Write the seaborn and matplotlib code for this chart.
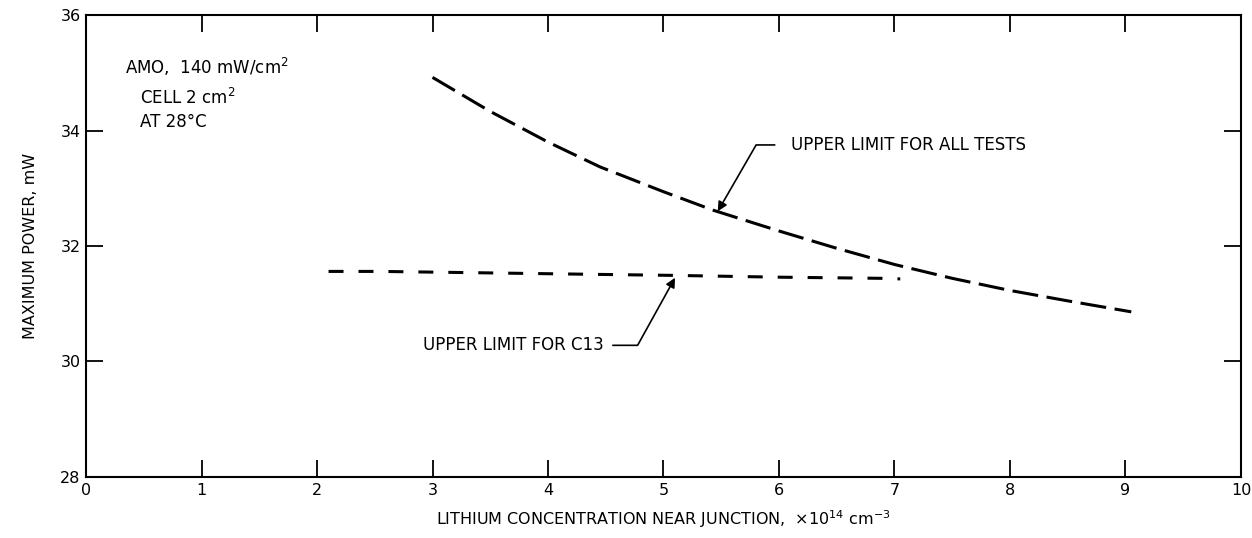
import pandas as pd
import seaborn as sns
from matplotlib import pyplot as plt

# upper limit for all tests
all_x = [3.0, 3.5, 4.0, 4.45, 5.0, 5.43, 6.0, 6.5, 7.0, 7.5, 8.0, 8.5, 9.05]
all_y = [34.92, 34.33, 33.8, 33.37, 32.94, 32.62, 32.26, 31.96, 31.68, 31.44, 31.23, 31.05, 30.86]

# upper limit for C13
c13_x = [2.1, 2.55, 4.0, 5.12, 6.0, 6.9, 7.05]
c13_y = [31.56, 31.56, 31.52, 31.49, 31.46, 31.44, 31.43]

x_ticks = [0, 1, 2, 3, 4, 5, 6, 7, 8, 9, 10]
y_ticks = [28, 30, 32, 34, 36]

sns.set_style("ticks")
plt.rcParams['font.family'] = ['DejaVu Sans']
plt.rcParams['text.color'] = 'black'
plt.rcParams['axes.labelcolor'] = 'black'
plt.rcParams['xtick.color'] = 'black'
plt.rcParams['ytick.color'] = 'black'

fig = plt.figure(figsize=(12.52, 5.38), dpi=100)
ax = fig.add_axes([0.0687, 0.1134, 0.9225, 0.8587])

df_all = pd.DataFrame({'x': all_x, 'y': all_y})
df_c13 = pd.DataFrame({'x': c13_x, 'y': c13_y})

sns.lineplot(data=df_all, x='x', y='y', ax=ax, color='black', lw=2.2,
             dashes=False, sort=False)
ax.lines[-1].set_dashes([8.5, 2.8])
sns.lineplot(data=df_c13, x='x', y='y', ax=ax, color='black', lw=2.2,
             dashes=False, sort=False)
ax.lines[-1].set_dashes([4.9, 4.9])

ax.set_xlim(0, 10)
ax.set_ylim(28, 36)
ax.set_xticks(x_ticks)
ax.set_yticks(y_ticks)
ax.tick_params(direction='in', length=12, width=1.3, top=True, right=True,
               labelsize=11.5, pad=4)
for s in ax.spines.values():
    s.set_linewidth(1.5)
    s.set_color('black')

ax.set_xlabel(r"LITHIUM CONCENTRATION NEAR JUNCTION,  $\times 10^{14}$ cm$^{-3}$",
              fontsize=11.5, labelpad=8)
ax.set_ylabel("MAXIMUM POWER, mW", fontsize=11.5, labelpad=16)

# conditions text
ax.text(0.34, 35.1, r"AMO,  140 mW/cm$^2$", fontsize=12, va='center')
ax.text(0.47, 34.57, r"CELL 2 cm$^2$", fontsize=12, va='center')
ax.text(0.47, 34.14, "AT 28°C", fontsize=12, va='center')

# annotations
ax.annotate("UPPER LIMIT FOR ALL TESTS", xy=(5.47, 32.6), xytext=(6.1, 33.75),
            fontsize=12, va='center',
            arrowprops=dict(arrowstyle='-|>', color='black', lw=1.2,
                            connectionstyle='angle,angleA=0,angleB=60,rad=0',
                            shrinkA=9, shrinkB=0, mutation_scale=14))
ax.annotate("UPPER LIMIT FOR C13", xy=(5.1, 31.45), xytext=(2.92, 30.28),
            fontsize=12, va='center',
            arrowprops=dict(arrowstyle='-|>', color='black', lw=1.2,
                            connectionstyle='angle,angleA=0,angleB=61,rad=0',
                            shrinkA=4, shrinkB=0, mutation_scale=14))

plt.savefig('out.png', dpi=100)
